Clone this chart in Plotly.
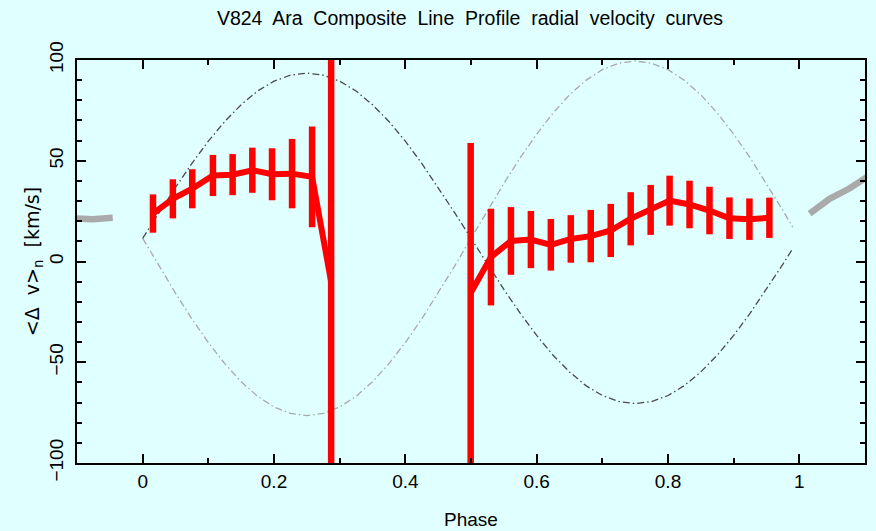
import plotly.graph_objects as go

# --- data ---
phase1 = [0.0157, 0.046, 0.0755, 0.107, 0.137, 0.167, 0.197, 0.2275, 0.258, 0.287]
vel1 = [23.8, 31.1, 36.1, 42.7, 43.1, 45.3, 43.3, 43.6, 42.0, -10.0]
err1_plus = [9.5, 9.7, 9.7, 10.2, 10.2, 11.2, 12.9, 17.2, 25.0, 110.0]
err1_minus = [9.5, 9.7, 9.7, 10.2, 10.2, 11.2, 12.9, 17.2, 25.0, 90.0]

phase2 = [0.4995, 0.5304, 0.5608, 0.5912, 0.6216, 0.6520, 0.6824, 0.7128,
          0.7432, 0.7736, 0.8024, 0.8328, 0.8632, 0.8936, 0.9240, 0.9544]
vel2 = [-15.6, 2.2, 10.2, 10.9, 8.3, 11.2, 12.6, 15.4,
        21.2, 25.6, 30.2, 28.3, 25.3, 21.5, 21.0, 21.7]
err2_plus = [74.4, 24.0, 16.8, 14.2, 12.8, 11.8, 13.0, 13.2,
             13.2, 12.4, 12.4, 11.8, 11.8, 10.3, 10.3, 10.0]
err2_minus = [84.4, 24.0, 16.8, 14.2, 12.8, 11.8, 13.0, 13.2,
              13.2, 12.4, 12.4, 11.8, 11.8, 10.3, 10.3, 10.0]

# model curves
model_phase = [0.0, 0.025, 0.05, 0.075, 0.1, 0.125, 0.15, 0.175, 0.2, 0.225, 0.25,
               0.275, 0.3, 0.325, 0.35, 0.375, 0.4, 0.425, 0.45, 0.475, 0.5,
               0.525, 0.55, 0.575, 0.6, 0.625, 0.65, 0.675, 0.7, 0.725, 0.75,
               0.775, 0.8, 0.825, 0.85, 0.875, 0.9, 0.925, 0.95, 0.975, 0.99]
model_dark = [11.5, 24.3, 36.8, 48.7, 59.7, 69.5, 77.8, 84.6, 89.5, 92.5, 93.5,
              92.5, 89.5, 84.6, 77.8, 69.5, 59.7, 48.7, 36.8, 24.3, 11.5,
              -1.3, -13.8, -25.7, -36.7, -46.5, -54.8, -61.6, -66.5, -69.5, -70.5,
              -69.5, -66.5, -61.6, -54.8, -46.5, -36.7, -25.7, -13.8, -1.3, 6.4]
model_light = [11.5, -2.3, -15.7, -28.5, -40.2, -50.7, -59.7, -66.9, -72.2, -75.4, -76.5,
               -75.4, -72.2, -66.9, -59.7, -50.7, -40.2, -28.5, -15.7, -2.3, 11.5,
               25.3, 38.7, 51.5, 63.2, 73.7, 82.7, 89.9, 95.2, 98.4, 99.5,
               98.4, 95.2, 89.9, 82.7, 73.7, 63.2, 51.5, 38.7, 25.3, 17.0]

x_ticks = [0, 0.2, 0.4, 0.6, 0.8, 1]
x_tick_labels = ["0", "0.2", "0.4", "0.6", "0.8", "1"]
y_ticks = [-100, -50, 0, 50, 100]
y_tick_labels = ["\u2212100", "\u221250", "0", "50", "100"]

# wrapped copies (phase +/- 1)
gray_left_x = [p - 1 for p in phase2[-3:]]
gray_left_y = vel2[-3:]
gray_right_x = [p + 1 for p in phase1[:5]]
gray_right_y = vel1[:5]

BG = "#E0FFFF"
FONT = "Liberation Sans, Arial, sans-serif"
FONT2 = "DejaVu Sans, Liberation Sans, sans-serif"
fig = go.Figure()

fig.add_trace(go.Scatter(x=model_phase, y=model_light, mode="lines",
                         line=dict(color="#A8A8A8", width=1.3, dash="7px,3px,1.5px,3px")))
fig.add_trace(go.Scatter(x=model_phase, y=model_dark, mode="lines",
                         line=dict(color="#4A4A4A", width=1.3, dash="7px,3px,1.5px,3px")))

fig.add_trace(go.Scatter(x=gray_left_x, y=gray_left_y, mode="lines",
                         line=dict(color="#AAAAAA", width=6.5)))
fig.add_trace(go.Scatter(x=gray_right_x, y=gray_right_y, mode="lines",
                         line=dict(color="#AAAAAA", width=6.5)))

for px, vy, ep, em in [(phase1, vel1, err1_plus, err1_minus),
                       (phase2, vel2, err2_plus, err2_minus)]:
    fig.add_trace(go.Scatter(
        x=px, y=vy, mode="lines",
        line=dict(color="#FF0000", width=6),
        error_y=dict(type="data", symmetric=False, array=ep, arrayminus=em,
                     color="#FF0000", thickness=6.5, width=0),
    ))

axis_common = dict(
    showgrid=False, zeroline=False, showline=True, linecolor="black", linewidth=1.5,
    mirror="ticks", ticks="inside", ticklen=9, tickwidth=1.5, tickcolor="black",
    tickfont=dict(family=FONT, size=19, color="black"), automargin=False,
)

fig.update_layout(
    width=876, height=531,
    paper_bgcolor=BG, plot_bgcolor=BG,
    showlegend=False,
    margin=dict(l=77, r=11, t=60, b=68, autoexpand=False),
    title=dict(text="V824  Ara  Composite  Line  Profile  radial  velocity  curves",
               x=0.5365, xanchor="center", automargin=False,
               y=1 - 18 / 531, yanchor="middle",
               font=dict(family=FONT, size=19.5, color="black")),
    xaxis=dict(
        range=[-0.1, 1.1], tickvals=x_ticks, ticktext=x_tick_labels,
        minor=dict(dtick=0.1, tick0=0, ticks="inside", ticklen=5, tickwidth=1.5, tickcolor="black"),
        title=dict(text="Phase", standoff=22,
                   font=dict(family=FONT, size=19, color="black")),
        **axis_common,
    ),
    yaxis=dict(
        range=[-100, 100], tickvals=y_ticks, ticktext=y_tick_labels, tickangle=-90,
        ticklabelstandoff=5,
        minor=dict(dtick=10, tick0=0, ticks="inside", ticklen=5, tickwidth=1.5, tickcolor="black"),
        title=dict(text="&lt;\u0394  v&gt;<sub>n</sub>  [km/s]", standoff=1,
                   font=dict(family=FONT2, size=19, color="black")),
        **axis_common,
    ),
)

fig.write_html("out.html")
